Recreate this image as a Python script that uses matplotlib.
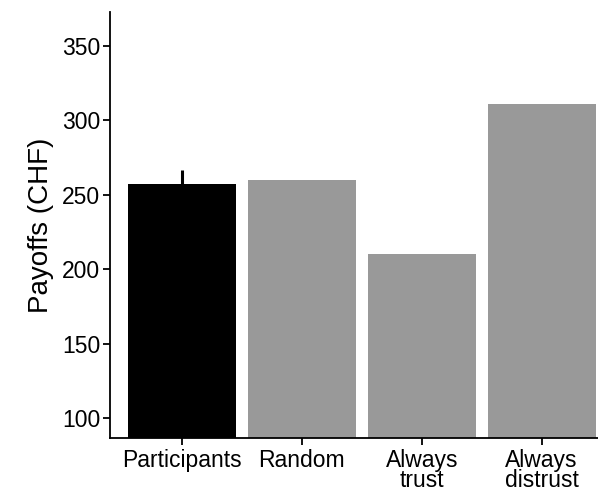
import matplotlib
matplotlib.use("Agg")
import matplotlib.pyplot as plt

plt.rcParams['font.family'] = ['Liberation Sans', 'DejaVu Sans']

categories = ["Participants", "Random", "Always\ntrust", "Always\ndistrust"]
payoffs = [257, 260, 210, 311]
error_upper = [10, 0, 0, 0]
bar_colors = ["#000000", "#999999", "#999999", "#999999"]
yticks = [100, 150, 200, 250, 300, 350]

fig = plt.figure(figsize=(5.98, 4.92), dpi=100)
ax = fig.add_axes([0.184, 0.110, 0.816, 0.866])

x = list(range(1, len(categories) + 1))
ax.bar(x, payoffs, width=0.9, color=bar_colors, zorder=2)
ax.errorbar(x[0], payoffs[0], yerr=[[error_upper[0]], [error_upper[0]]],
            fmt='none', ecolor='black', elinewidth=2.2, capsize=0, zorder=3)

ax.set_xlim(0.4, 4.47)
ax.set_ylim(86.6, 373)
ax.set_yticks(yticks)
ax.set_xticks(x)
ax.set_xticklabels(categories, linespacing=0.86)
ax.tick_params(axis='both', labelsize=16.5, colors='black', width=1.3, length=5)
ax.tick_params(axis='y', pad=2)
ax.tick_params(axis='x', pad=3)
ax.set_ylabel("Payoffs (CHF)", fontsize=20, labelpad=6)

for side in ("top", "right"):
    ax.spines[side].set_visible(False)
for side in ("left", "bottom"):
    ax.spines[side].set_linewidth(1.3)

fig.savefig("out.png", dpi=100)
